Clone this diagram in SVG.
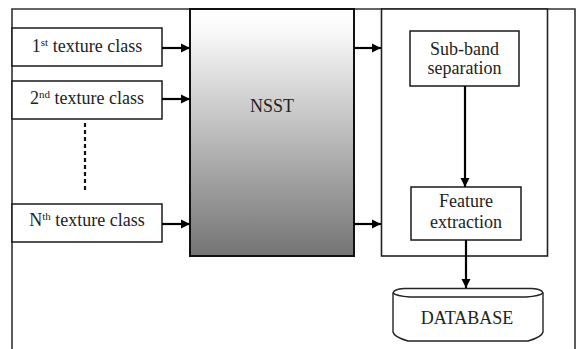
<svg xmlns="http://www.w3.org/2000/svg" width="581" height="349" viewBox="0 0 581 349">
  <style>
    .box { fill: #ffffff; stroke: #1a1a1a; stroke-width: 1.5; }
    .lbl { font-family: 'Liberation Serif', 'Times New Roman', serif; font-size: 18px; fill: #222222; text-anchor: middle; }
    .sup { font-size: 11px; }
    .conn { stroke: #000000; stroke-width: 2.2; fill: none; }
  </style>
  <defs>
    <linearGradient id="nsstFill" x1="0" y1="0" x2="0" y2="1">
      <stop offset="0" stop-color="#ffffff"/>
      <stop offset="0.08" stop-color="#fafafa"/>
      <stop offset="1" stop-color="#747474"/>
    </linearGradient>
    <marker id="head" viewBox="0 0 10 10" refX="10" refY="5" markerWidth="4.2" markerHeight="4.2" markerUnits="strokeWidth" orient="auto">
      <path d="M0,0 L10,5 L0,10 z" fill="#000000"/>
    </marker>
  </defs>

  <rect width="581" height="349" fill="#ffffff"/>

  <!-- outer frame, open at the bottom -->
  <path d="M12,349 V9 H575 V349" fill="none" stroke="#333333" stroke-width="1.6"/>

  <!-- input classes -->
  <g id="class1">
    <rect class="box" x="12" y="28" width="150" height="38"/>
    <text class="lbl" x="87" y="52">1<tspan class="sup" dy="-6">st</tspan><tspan dy="6"> texture class</tspan></text>
  </g>
  <g id="class2">
    <rect class="box" x="12" y="81" width="150" height="38"/>
    <text class="lbl" x="87" y="104">2<tspan class="sup" dy="-6">nd</tspan><tspan dy="6"> texture class</tspan></text>
  </g>
  <g id="classN">
    <rect class="box" x="12" y="204" width="150" height="38"/>
    <text class="lbl" x="87" y="226">N<tspan class="sup" dy="-6">th</tspan><tspan dy="6"> texture class</tspan></text>
  </g>

  <!-- transform block -->
  <g id="nsst">
    <rect x="190" y="9" width="164" height="247" fill="url(#nsstFill)" stroke="#111111" stroke-width="2"/>
    <text class="lbl" x="272" y="112">NSST</text>
  </g>

  <!-- processing stage -->
  <g id="stage">
    <rect x="381.5" y="9" width="166" height="247" fill="#ffffff" stroke="#222222" stroke-width="1.6"/>
  </g>
  <g id="subband">
    <rect class="box" x="410" y="31" width="109" height="55"/>
    <text class="lbl" x="464.5" y="55">Sub-band</text>
    <text class="lbl" x="464.5" y="74">separation</text>
  </g>
  <g id="feature">
    <rect class="box" x="411" y="187" width="110" height="53"/>
    <text class="lbl" x="466" y="207">Feature</text>
    <text class="lbl" x="466" y="228">extraction</text>
  </g>

  <!-- storage -->
  <g id="database">
    <path d="M393,293 Q394,289 404,288.5 L532,288.5 Q542,289 543,293 V332 Q542,337 528,341 L408,341 Q394,337 393,332 Z" fill="#ffffff" stroke="#222222" stroke-width="1.4"/>
    <path d="M393,293 Q396,296 410,297 L526,297 Q540,296 543,293" fill="none" stroke="#222222" stroke-width="1.4"/>
    <text class="lbl" x="467" y="324">DATABASE</text>
  </g>

  <!-- connectors -->
  <g id="connectors">
    <line class="conn" x1="162" y1="48" x2="190" y2="48" marker-end="url(#head)"/>
    <line class="conn" x1="162" y1="99" x2="190" y2="99" marker-end="url(#head)"/>
    <line class="conn" x1="162" y1="224" x2="190" y2="224" marker-end="url(#head)"/>
    <line x1="85" y1="123" x2="85" y2="191" stroke="#111111" stroke-width="2.2" stroke-dasharray="4,3"/>
    <line class="conn" x1="354" y1="48" x2="381" y2="48" marker-end="url(#head)"/>
    <line class="conn" x1="354" y1="224" x2="381" y2="224" marker-end="url(#head)"/>
    <line class="conn" x1="465" y1="86" x2="465" y2="187" marker-end="url(#head)"/>
    <line class="conn" x1="466" y1="240" x2="466" y2="288" marker-end="url(#head)"/>
  </g>
</svg>
